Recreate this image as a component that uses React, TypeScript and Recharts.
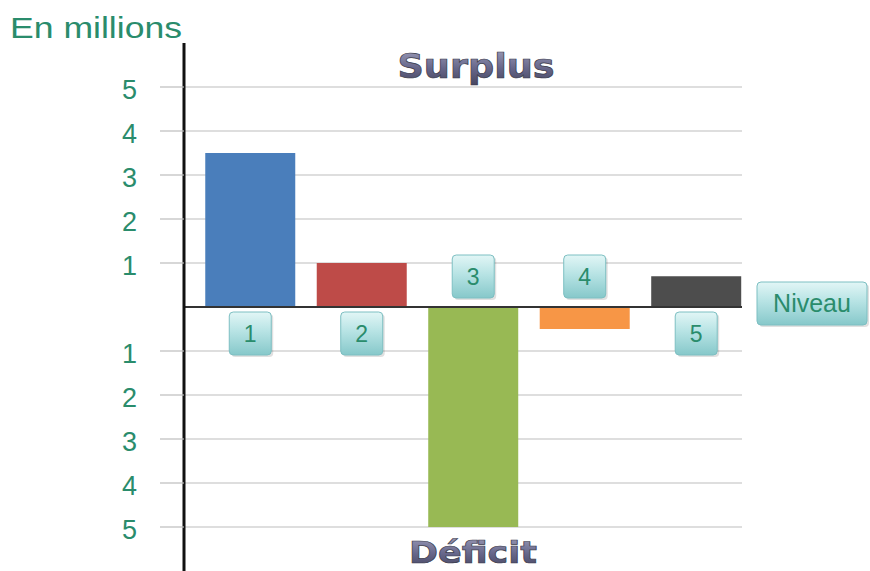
import { BarChart, Bar, XAxis, YAxis, CartesianGrid, ReferenceLine, Cell, LabelList, Customized } from 'recharts';

const categories = ['1', '2', '3', '4', '5'];
const values = [3.5, 1, -5, -0.5, 0.7];
const colors = ['#4a7ebb', '#be4b48', '#98b954', '#f79646', '#4d4d4d'];
const yTicks = [5, 4, 3, 2, 1, -1, -2, -3, -4, -5];

const data = categories.map((label, i) => ({ pos: i + 1, label, value: values[i] }));

const GREEN = '#2a8c6c';

const NumberBox = (props: any) => {
  const { x, y, width, height, index, value } = props;
  const isPos = values[index] >= 0;
  const zero = isPos ? Math.max(y, y + height) : Math.min(y, y + height);
  const bw = 42;
  const bh = 43;
  const cx = x + width / 2;
  const top = isPos ? zero + 5 : zero - 9 - bh;
  return (
    <g>
      <rect x={cx - bw / 2 + 2} y={top + 2} width={bw} height={bh} rx={4} fill="#000" opacity={0.12} />
      <rect x={cx - bw / 2} y={top} width={bw} height={bh} rx={4} fill="url(#boxGrad)" stroke="#7dbfc2" strokeWidth={1} />
      <text x={cx} y={top + bh / 2 + 8} textAnchor="middle" fontSize={23} fontFamily="Liberation Sans, Arial, sans-serif" fill={GREEN}>
        {value}
      </text>
    </g>
  );
};

const NiveauBox = (props: any) => {
  const vb = props.viewBox || {};
  const left = vb.x + vb.width + 15;
  const top = vb.y - 25;
  return (
    <g>
      <rect x={left + 2} y={top + 2} width={110} height={43} rx={4} fill="#000" opacity={0.12} />
      <rect x={left} y={top} width={110} height={43} rx={4} fill="url(#boxGrad)" stroke="#7dbfc2" strokeWidth={1} />
      <text x={left + 55} y={top + 30} textAnchor="middle" fontSize={25} fontFamily="Liberation Sans, Arial, sans-serif" fill={GREEN}>
        Niveau
      </text>
    </g>
  );
};

const Titles = () => (
  <g>
    <defs>
      <linearGradient id="boxGrad" x1="0" y1="0" x2="0" y2="1">
        <stop offset="0%" stopColor="#e2f6f6" />
        <stop offset="45%" stopColor="#b7e3e4" />
        <stop offset="100%" stopColor="#86c8ca" />
      </linearGradient>
      <linearGradient id="titleGrad" x1="0" y1="0" x2="0" y2="1">
        <stop offset="0%" stopColor="#a0a0bc" />
        <stop offset="55%" stopColor="#66668a" />
        <stop offset="100%" stopColor="#44445e" />
      </linearGradient>
    </defs>
    <text x={10} y={38} fontSize={29} textLength={172} lengthAdjust="spacingAndGlyphs" fontFamily="Liberation Sans, Arial, sans-serif" fill={GREEN}>
      En millions
    </text>
    <text x={476} y={78} textAnchor="middle" fontSize={33} fontWeight="bold" textLength={157} lengthAdjust="spacingAndGlyphs" fontFamily="DejaVu Sans, sans-serif" fill="url(#titleGrad)" stroke="#3a3a4a" strokeWidth={0.7}>
      Surplus
    </text>
    <text x={473} y={563} textAnchor="middle" fontSize={31} fontWeight="bold" textLength={128} lengthAdjust="spacingAndGlyphs" fontFamily="DejaVu Sans, sans-serif" fill="url(#titleGrad)" stroke="#3a3a4a" strokeWidth={0.7}>
      Déficit
    </text>
  </g>
);

export default function App() {
  return (
    <div style={{ width: 870, height: 571, background: '#fff' }}>
      <style>{`body{margin:0}`}</style>
      <BarChart width={870} height={571} data={data} margin={{ top: 43, right: 128, bottom: 0, left: 0 }}>
        <Customized component={Titles} />
        <CartesianGrid horizontal vertical={false} horizontalValues={yTicks} stroke="#bdbdbd" strokeWidth={1.2} />
        <XAxis type="number" dataKey="pos" domain={[0.408, 5.413]} allowDataOverflow hide />
        <YAxis
          type="number"
          domain={[-6, 6]}
          allowDataOverflow
          ticks={yTicks}
          interval={0}
          tickFormatter={(v: number) => String(Math.abs(v))}
          width={184}
          tickSize={24}
          tickMargin={23}
          tickLine={{ stroke: '#bdbdbd', strokeWidth: 1.2 }}
          axisLine={{ stroke: '#111', strokeWidth: 3 }}
          tick={{ fill: GREEN, fontSize: 27, fontFamily: 'Liberation Sans, Arial, sans-serif', dy: 2 }}
        />
        <Bar dataKey="value" barSize={90} isAnimationActive={false}>
          {data.map((d, i) => (
            <Cell key={d.label} fill={colors[i]} />
          ))}
          <LabelList dataKey="label" content={NumberBox} />
        </Bar>
        <ReferenceLine y={0} stroke="#333" strokeWidth={2} label={NiveauBox} />
      </BarChart>
    </div>
  );
}
